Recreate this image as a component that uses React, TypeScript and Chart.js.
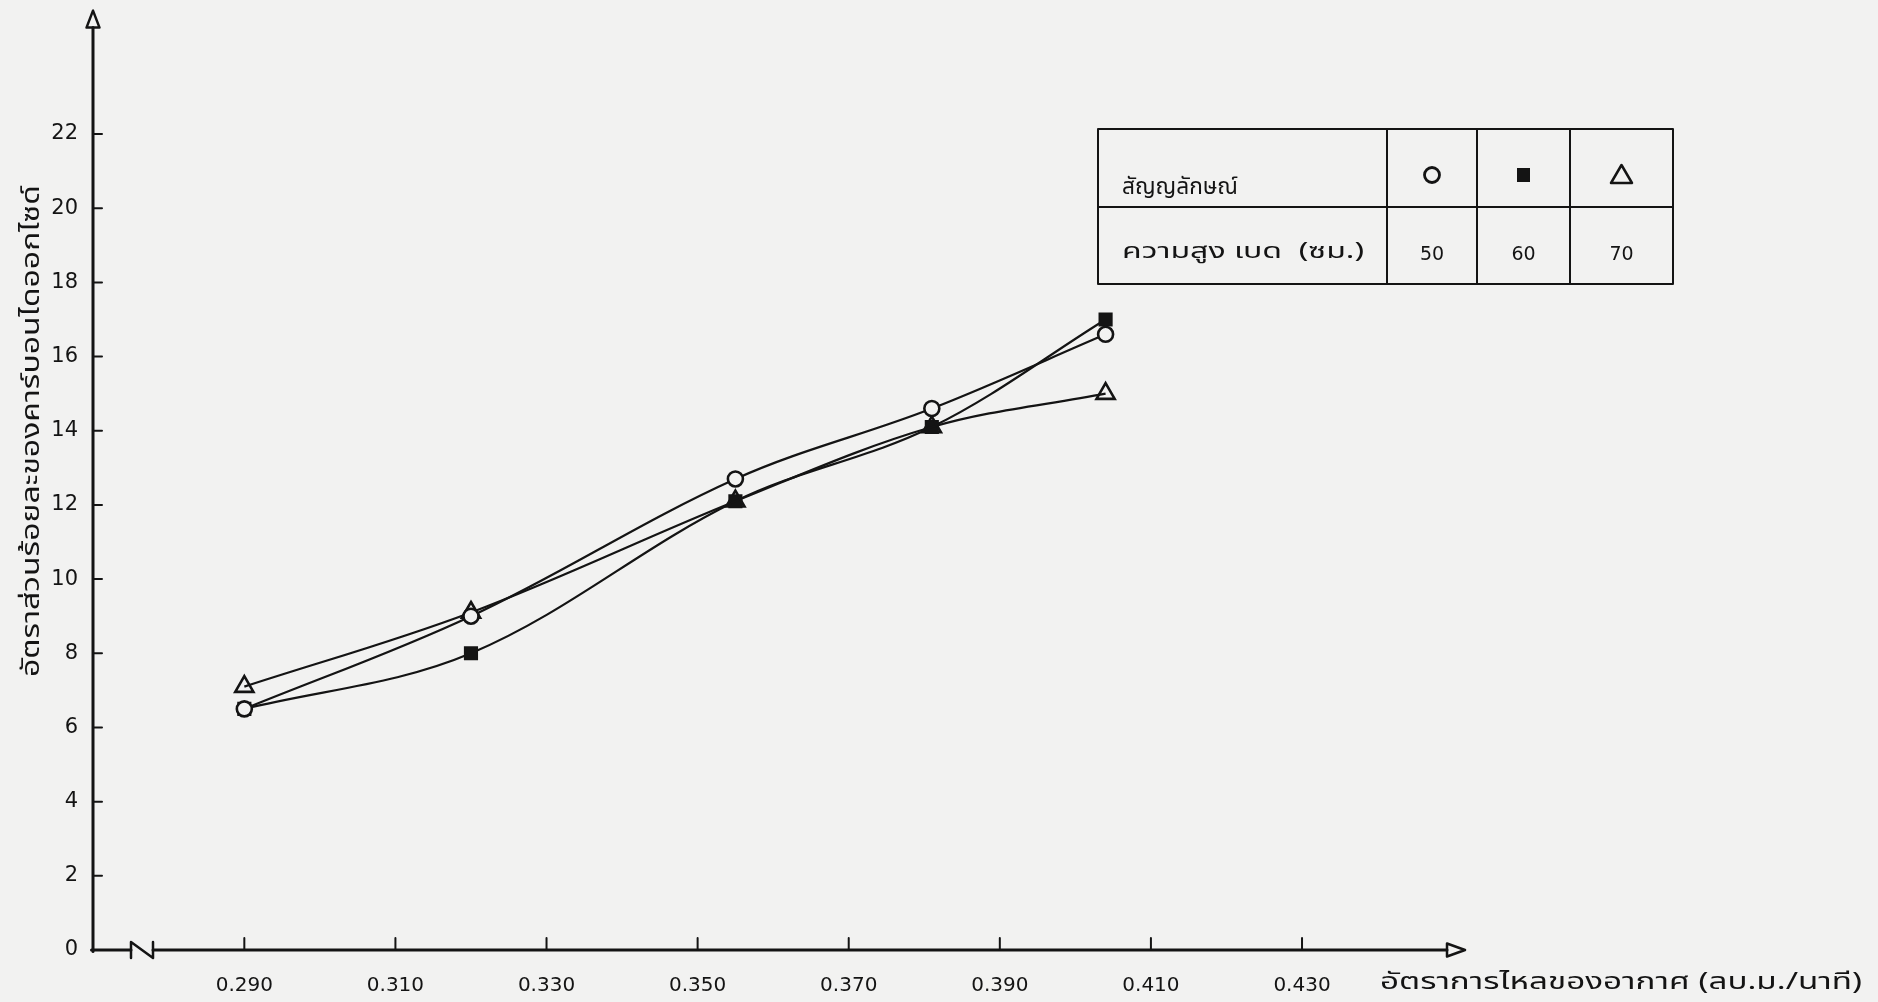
import React, { useEffect, useRef } from "react";
import { Chart, registerables } from "chart.js";

Chart.register(...registerables);

// ---- data ----
const airFlow = [0.29, 0.32, 0.355, 0.381, 0.404];
const bed50 = [6.5, 9.0, 12.7, 14.6, 16.6];
const bed60 = [6.5, 8.0, 12.1, 14.1, 17.0];
const bed70 = [7.1, 9.1, 12.1, 14.1, 15.0];
const xTickValues = [0.29, 0.31, 0.33, 0.35, 0.37, 0.39, 0.41, 0.43];
const yTickValues = [0, 2, 4, 6, 8, 10, 12, 14, 16, 18, 20, 22];
const bedHeights = ["50", "60", "70"];
const legendHeader = "สัญญลักษณ์";
const legendRowLabel = "ความสูง เบด  (ซม.)";
const xTitle = "อัตราการไหลของอากาศ (ลบ.ม./นาที)";
const yTitle = "อัตราส่วนร้อยละของคาร์บอนไดออกไซด์";

const PAPER = "#f2f2f1";
const INK = "#141414";
const THAI_FONT = '"Noto Sans Thai", "Tlwg Typo", Loma, Garuda, "Noto Sans", sans-serif';
const NUM_FONT = '"DejaVu Sans", Verdana, sans-serif';

function fitText(ctx: CanvasRenderingContext2D, text: string, x: number, y: number, width: number, font: string) {
  ctx.save();
  ctx.font = font;
  ctx.textAlign = "left";
  ctx.textBaseline = "middle";
  const w = ctx.measureText(text).width;
  const sx = w > 0 ? width / w : 1;
  ctx.translate(x, y);
  ctx.scale(sx, 1);
  ctx.fillText(text, 0, 0);
  ctx.restore();
}

const decorPlugin = {
  id: "paperDecor",
  beforeDraw(chart: any) {
    const ctx = chart.ctx;
    ctx.save();
    ctx.fillStyle = PAPER;
    ctx.fillRect(0, 0, chart.width, chart.height);
    ctx.restore();
  },
  beforeDatasetsDraw(chart: any) {
    const ctx: CanvasRenderingContext2D = chart.ctx;
    const { left: L, right: R, top: T, bottom: B } = chart.chartArea;
    const xs = chart.scales.x;
    const ys = chart.scales.y;
    ctx.save();
    ctx.strokeStyle = INK;
    ctx.fillStyle = INK;
    ctx.lineCap = "round";
    ctx.lineJoin = "round";

    // y axis with open arrow
    ctx.lineWidth = 3;
    ctx.beginPath();
    ctx.moveTo(L, B + 1.5);
    ctx.lineTo(L, T);
    ctx.stroke();
    ctx.lineWidth = 2.5;
    ctx.beginPath();
    ctx.moveTo(L, T - 17);
    ctx.lineTo(L - 6.5, T);
    ctx.lineTo(L + 6.5, T);
    ctx.closePath();
    ctx.stroke();

    // x axis with break and open arrow
    const b1 = L + 38;
    const b2 = L + 60;
    ctx.lineWidth = 3;
    ctx.beginPath();
    ctx.moveTo(L - 1.5, B);
    ctx.lineTo(b1, B);
    ctx.moveTo(b2, B);
    ctx.lineTo(R, B);
    ctx.stroke();
    ctx.lineWidth = 2.5;
    ctx.beginPath();
    ctx.moveTo(b1, B + 8);
    ctx.lineTo(b1, B - 8);
    ctx.lineTo(b2, B + 8);
    ctx.lineTo(b2, B - 8);
    ctx.stroke();
    ctx.beginPath();
    ctx.moveTo(R, B - 6.5);
    ctx.lineTo(R + 18, B);
    ctx.lineTo(R, B + 6.5);
    ctx.closePath();
    ctx.stroke();

    // inner tick marks
    ctx.lineWidth = 2;
    ctx.beginPath();
    for (const t of ys.ticks) {
      if (t.value === 0) continue;
      const y = ys.getPixelForValue(t.value);
      ctx.moveTo(L, y);
      ctx.lineTo(L + 9, y);
    }
    for (const t of xs.ticks) {
      const x = xs.getPixelForValue(t.value);
      ctx.moveTo(x, B);
      ctx.lineTo(x, B - 12);
    }
    ctx.stroke();

    // axis titles
    fitText(ctx, xTitle, 1380, 984, 482, `23px ${THAI_FONT}`);
    ctx.save();
    ctx.translate(34, 431);
    ctx.rotate(-Math.PI / 2);
    fitText(ctx, yTitle, -246, 0, 492, `24px ${THAI_FONT}`);
    ctx.restore();

    // legend table
    const tx = [1098, 1387, 1477, 1570, 1673];
    const ty = [129, 207, 284];
    ctx.lineWidth = 2;
    ctx.beginPath();
    for (const y of ty) {
      ctx.moveTo(tx[0], y);
      ctx.lineTo(tx[4], y);
    }
    for (const x of tx) {
      ctx.moveTo(x, ty[0]);
      ctx.lineTo(x, ty[2]);
    }
    ctx.stroke();
    fitText(ctx, legendHeader, 1122, 189, 116, `23px ${THAI_FONT}`);
    fitText(ctx, legendRowLabel, 1122, 254, 242, `21px ${THAI_FONT}`);
    ctx.font = `19px ${NUM_FONT}`;
    ctx.textAlign = "center";
    ctx.textBaseline = "middle";
    bedHeights.forEach((h, i) => {
      ctx.fillText(h, (tx[i + 1] + tx[i + 2]) / 2, 255);
    });
    // symbols
    const cy = 175;
    const c1 = (tx[1] + tx[2]) / 2;
    const c2 = (tx[2] + tx[3]) / 2;
    const c3 = (tx[3] + tx[4]) / 2;
    ctx.lineWidth = 2.8;
    ctx.beginPath();
    ctx.arc(c1, cy, 7.5, 0, Math.PI * 2);
    ctx.stroke();
    ctx.fillRect(c2 - 6.5, cy - 7, 13, 14);
    ctx.lineWidth = 2.5;
    ctx.beginPath();
    ctx.moveTo(c3, cy - 10);
    ctx.lineTo(c3 + 10.5, cy + 8);
    ctx.lineTo(c3 - 10.5, cy + 8);
    ctx.closePath();
    ctx.stroke();
    ctx.restore();
  },
};

export default function App() {
  const canvasRef = useRef<HTMLCanvasElement | null>(null);

  useEffect(() => {
    document.body.style.margin = "0";
    document.body.style.background = PAPER;
    const canvas = canvasRef.current;
    if (!canvas) return;
    const toPoints = (ys: number[]) => airFlow.map((x, i) => ({ x, y: ys[i] }));
    const common = {
      borderColor: INK,
      borderWidth: 2.2,
      tension: 0.35,
      fill: false,
      pointBorderColor: INK,
      pointBorderWidth: 2.6,
    };
    const chart = new Chart(canvas, {
      type: "line",
      data: {
        datasets: [
          {
            ...common,
            label: "50",
            data: toPoints(bed50),
            pointStyle: "circle",
            pointRadius: 7.5,
            pointBackgroundColor: PAPER,
            order: 0,
          },
          {
            ...common,
            label: "60",
            data: toPoints(bed60),
            pointStyle: "rect",
            pointRadius: 10,
            pointBorderWidth: 0,
            pointBackgroundColor: INK,
            order: 2,
          },
          {
            ...common,
            label: "70",
            data: toPoints(bed70),
            pointStyle: "triangle",
            pointRadius: 10.5,
            pointBackgroundColor: "rgba(0,0,0,0)",
            order: 1,
          },
        ] as any,
      },
      options: {
        animation: false,
        responsive: false,
        devicePixelRatio: 1,
        layout: { padding: { top: 25, right: 431, left: 0, bottom: 0 } },
        plugins: {
          legend: { display: false },
          tooltip: { enabled: false },
          title: { display: false },
        },
        scales: {
          x: {
            type: "linear",
            min: 0.26997,
            max: 0.44919,
            grid: { display: false, drawTicks: false },
            border: { display: false },
            afterBuildTicks: (s: any) => {
              s.ticks = xTickValues.map((v) => ({ value: v }));
            },
            afterFit: (s: any) => {
              s.height = 52;
            },
            ticks: {
              autoSkip: false,
              maxRotation: 0,
              padding: 24,
              color: INK,
              font: { family: NUM_FONT, size: 20 },
              callback: (v: any) => Number(v).toFixed(3),
            },
          },
          y: {
            type: "linear",
            min: 0,
            max: 24.87,
            grid: { display: false, drawTicks: false },
            border: { display: false },
            afterBuildTicks: (s: any) => {
              s.ticks = yTickValues.map((v) => ({ value: v }));
            },
            afterFit: (s: any) => {
              s.width = 93;
            },
            ticks: {
              autoSkip: false,
              padding: 15,
              color: INK,
              font: { family: NUM_FONT, size: 21 },
              callback: (v: any) => String(v),
            },
          },
        },
      } as any,
      plugins: [decorPlugin],
    });
    return () => chart.destroy();
  }, []);

  return (
    <div style={{ width: 1878, height: 1002, background: PAPER }}>
      <canvas ref={canvasRef} width={1878} height={1002} style={{ display: "block", width: 1878, height: 1002 }} />
    </div>
  );
}
